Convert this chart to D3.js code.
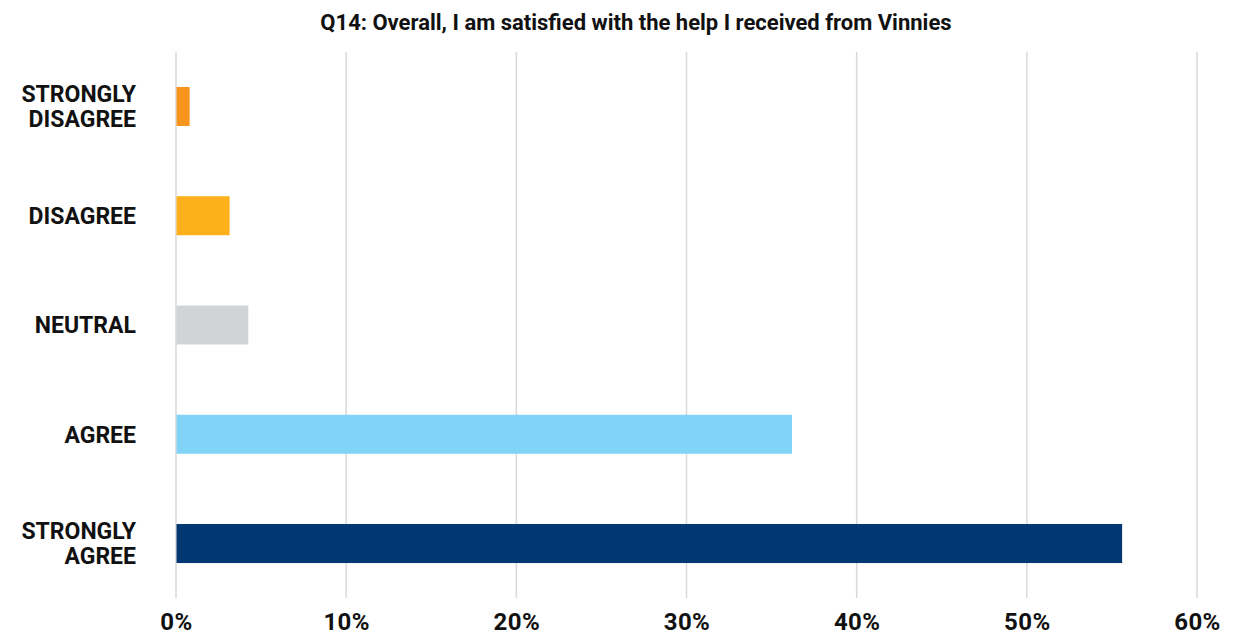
<!DOCTYPE html>
<html>
<head>
<meta charset="utf-8">
<script src="https://cdn.jsdelivr.net/npm/d3@7"></script>
<style>
  html, body { margin: 0; padding: 0; background: #fff; }
  svg { display: block; font-family: Roboto, "Liberation Sans", sans-serif; }
</style>
</head>
<body>
<svg id="chart" width="1249" height="636"></svg>
<script>
// Survey responses (share of respondents)
const categories = ["STRONGLY DISAGREE", "DISAGREE", "NEUTRAL", "AGREE", "STRONGLY AGREE"];
const values = [0.8, 3.15, 4.25, 36.2, 55.6];
const colors = ["#F7941D", "#FDB01B", "#D2D3D5", "#81D4F7", "#013873"];
const tickValues = [0, 10, 20, 30, 40, 50, 60];
const title = "Q14: Overall, I am satisfied with the help I received from Vinnies";

const svg = d3.select("#chart");
const plot = { left: 176, right: 1197, top: 52, bottom: 598 };

const x = d3.scaleLinear().domain([0, 60]).range([plot.left, plot.right]);
const y = d3.scaleBand().domain(categories).range([plot.top, plot.bottom])
  .paddingInner(0.643).paddingOuter(0.32);

// Title
svg.append("text")
  .attr("x", 636).attr("y", 30)
  .attr("text-anchor", "middle")
  .attr("font-size", 22).attr("font-weight", 700)
  .attr("fill", "#111")
  .text(title);

// Vertical gridlines
svg.append("g")
  .selectAll("line")
  .data(tickValues)
  .join("line")
  .attr("x1", d => x(d)).attr("x2", d => x(d))
  .attr("y1", plot.top).attr("y2", plot.bottom)
  .attr("stroke", "#D9D9D9").attr("stroke-width", 1.5);

// Bars
svg.append("g")
  .selectAll("rect")
  .data(categories)
  .join("rect")
  .attr("x", x(0) + 0.5)
  .attr("y", d => y(d))
  .attr("height", y.bandwidth())
  .attr("width", (d, i) => x(values[i]) - x(0) - 0.5)
  .attr("fill", (d, i) => colors[i]);

// X axis tick labels
const xAxis = d3.axisBottom(x).tickValues(tickValues).tickFormat(d => d + "%").tickSize(0).tickPadding(0);
const gx = svg.append("g").attr("transform", `translate(0, ${plot.bottom + 15})`).call(xAxis);
gx.select(".domain").remove();
gx.selectAll("text")
  .attr("font-size", 24).attr("font-weight", 700)
  .attr("letter-spacing", 0.4)
  .attr("fill", "#111").attr("font-family", "Roboto, sans-serif");

// Category labels (wrapped on spaces for two-word labels)
const gy = svg.append("g");
categories.forEach(c => {
  const words = c.split(" ");
  const lineH = 25;
  const cy = y(c) + y.bandwidth() / 2;
  const t = gy.append("text")
    .attr("text-anchor", "end")
    .attr("font-size", 23).attr("font-weight", 700)
    .attr("fill", "#111");
  words.forEach((w, i) => {
    t.append("tspan")
      .attr("x", 136)
      .attr("y", cy + (i - (words.length - 1) / 2) * lineH)
      .attr("dy", "0.36em")
      .text(w);
  });
});
</script>
</body>
</html>
